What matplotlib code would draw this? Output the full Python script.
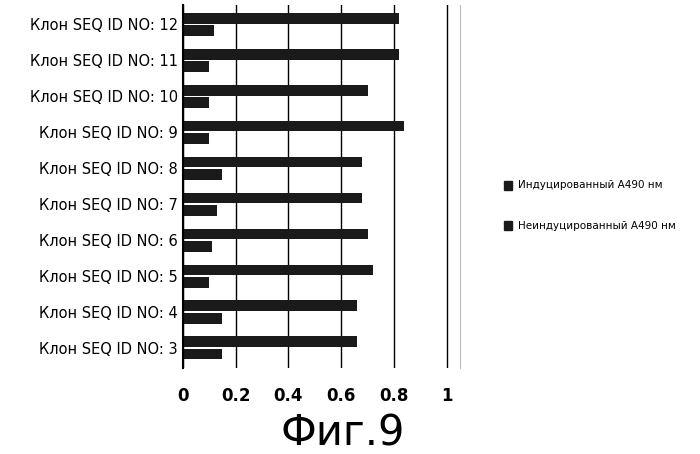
import matplotlib
matplotlib.use("Agg")
import matplotlib.pyplot as plt
import numpy as np

categories = ["3", "4", "5", "6", "7", "8", "9", "10", "11", "12"]
induced = [0.66, 0.66, 0.72, 0.70, 0.68, 0.68, 0.84, 0.70, 0.82, 0.82]
uninduced = [0.15, 0.15, 0.10, 0.11, 0.13, 0.15, 0.10, 0.10, 0.10, 0.12]
xticks = [0, 0.2, 0.4, 0.6, 0.8, 1]
xticklabels = ["0", "0.2", "0.4", "0.6", "0.8", "1"]

fig = plt.figure(figsize=(7, 4.54), dpi=100)
ax = fig.add_axes([0.261, 0.19, 0.396, 0.80])
y = np.arange(len(categories))
ax.barh(y + 0.17, induced, height=0.3, color="#1a1a1a")
ax.barh(y - 0.17, uninduced, height=0.3, color="#1a1a1a")
ax.set_yticks(y)
ax.set_yticklabels([f"Клон SEQ ID NO: {c}" for c in categories], fontsize=10.5)
ax.tick_params(axis="y", length=0)
ax.set_xlim(0, 1.05)
ax.set_ylim(-0.55, 9.55)
ax.set_xticks(xticks)
ax.set_xticklabels(xticklabels, fontsize=12, fontweight="bold")
ax.tick_params(axis="x", length=0, pad=14)
ax.grid(axis="x", color="black", linewidth=1)
ax.set_axisbelow(True)
for s in ["top", "bottom"]:
    ax.spines[s].set_visible(False)
ax.spines["left"].set_linewidth(1.5)
ax.spines["right"].set_color("#bbbbbb")

fig.text(0.74, 0.592, "Индуцированный А490 нм", fontsize=7.5, va="center")
fig.text(0.74, 0.503, "Неиндуцированный А490 нм", fontsize=7.5, va="center")
fig.patches.append(plt.Rectangle((0.72, 0.582), 0.012, 0.02, color="#1a1a1a", transform=fig.transFigure))
fig.patches.append(plt.Rectangle((0.72, 0.493), 0.012, 0.02, color="#1a1a1a", transform=fig.transFigure))
fig.text(0.49, 0.045, "Фиг.9", fontsize=30, ha="center", va="center")
fig.savefig("out.png")
